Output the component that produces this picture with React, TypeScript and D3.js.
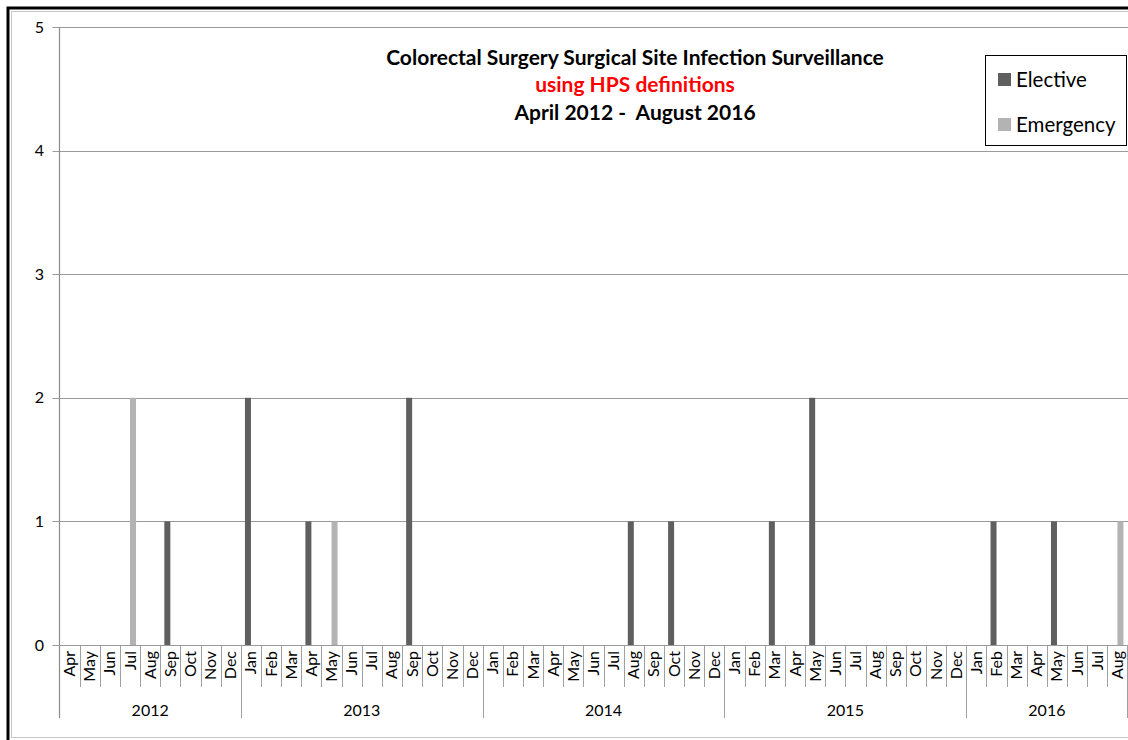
import * as d3 from 'd3';
import React, { useEffect, useRef } from 'react';

// months shown on the axis, Apr 2012 - Aug 2016
const years = ['2012', '2013', '2014', '2015', '2016'];
const monthNames = ['Jan', 'Feb', 'Mar', 'Apr', 'May', 'Jun', 'Jul', 'Aug', 'Sep', 'Oct', 'Nov', 'Dec'];
const yearMonths = [
  ['Apr', 'May', 'Jun', 'Jul', 'Aug', 'Sep', 'Oct', 'Nov', 'Dec'],
  monthNames,
  monthNames,
  monthNames,
  ['Jan', 'Feb', 'Mar', 'Apr', 'May', 'Jun', 'Jul', 'Aug'],
];

// infections per month
const elective = [
  0, 0, 0, 0, 0, 1, 0, 0, 0,
  2, 0, 0, 1, 0, 0, 0, 0, 2, 0, 0, 0,
  0, 0, 0, 0, 0, 0, 0, 1, 0, 1, 0, 0,
  0, 0, 1, 0, 2, 0, 0, 0, 0, 0, 0, 0,
  0, 1, 0, 0, 1, 0, 0, 0,
];
const emergency = [
  0, 0, 0, 2, 0, 0, 0, 0, 0,
  0, 0, 0, 0, 1, 0, 0, 0, 0, 0, 0, 0,
  0, 0, 0, 0, 0, 0, 0, 0, 0, 0, 0, 0,
  0, 0, 0, 0, 0, 0, 0, 0, 0, 0, 0, 0,
  0, 0, 0, 0, 0, 0, 0, 1,
];
const seriesNames = ['Elective', 'Emergency'];
const yTicks = [0, 1, 2, 3, 4, 5];

const W = 1128;
const H = 740;
const font = 'Lato, "Open Sans", sans-serif';

const App = () => {
  const ref = useRef(null);

  useEffect(() => {
    const svg = d3.select(ref.current);
    svg.selectAll('*').remove();

    const left = 59.5, right = 1127.5, top = 27, bottom = 645;
    const colors = { Elective: '#5f5f5f', Emergency: '#b3b3b3' };

    // flatten categories
    const cats = [];
    yearMonths.forEach((ms, yi) => ms.forEach(m => cats.push({ key: years[yi] + '-' + m, month: m, year: years[yi] })));

    const x = d3.scaleBand().domain(cats.map(c => c.key)).range([left, right]).padding(0);
    const inner = d3.scaleBand().domain(seriesNames).range([0, x.bandwidth()]).paddingInner(0).paddingOuter(0.68);
    const y = d3.scaleLinear().domain([0, 5]).range([bottom, top]);

    // frame
    svg.append('rect').attr('x', 8).attr('y', 8).attr('width', W + 20).attr('height', H + 20)
      .attr('fill', 'none').attr('stroke', '#000').attr('stroke-width', 3);
    svg.append('rect').attr('x', 11.5).attr('y', 11.5).attr('width', W + 20).attr('height', 726)
      .attr('fill', 'none').attr('stroke', '#c8c8c8').attr('stroke-width', 1);

    // gridlines + y ticks
    const g = svg.append('g');
    g.selectAll('line.grid').data(yTicks).enter().append('line')
      .attr('x1', left - 7).attr('x2', W)
      .attr('y1', d => Math.round(y(d)) + 0.5).attr('y2', d => Math.round(y(d)) + 0.5)
      .attr('stroke', '#9a9a9a').attr('stroke-width', 1.2);
    g.selectAll('text.ylab').data(yTicks).enter().append('text')
      .attr('x', 44).attr('y', d => y(d)).attr('dy', '0.35em')
      .attr('text-anchor', 'end').attr('font-family', font).attr('font-size', 16).attr('fill', '#000')
      .text(d => d);

    // y axis line
    svg.append('line').attr('x1', left).attr('x2', left).attr('y1', top).attr('y2', 718)
      .attr('stroke', '#8c8c8c').attr('stroke-width', 1.2);

    // month separators
    svg.append('g').selectAll('line').data(cats.slice(1)).enter().append('line')
      .attr('x1', d => Math.round(x(d.key)) + 0.5).attr('x2', d => Math.round(x(d.key)) + 0.5)
      .attr('y1', bottom).attr('y2', d => d.month === 'Jan' ? 718 : 687)
      .attr('stroke', '#a0a0a0').attr('stroke-width', 1);
    svg.append('line').attr('x1', right).attr('x2', right).attr('y1', bottom).attr('y2', 718)
      .attr('stroke', '#a0a0a0').attr('stroke-width', 1);

    // month labels
    svg.append('g').selectAll('text').data(cats).enter().append('text')
      .attr('transform', d => `translate(${x(d.key) + x.bandwidth() / 2 + 5.5},651) rotate(-90)`)
      .attr('text-anchor', 'end').attr('font-family', font).attr('font-size', 16).attr('fill', '#000')
      .text(d => d.month);

    // year labels
    years.forEach((yr, i) => {
      const ks = cats.filter(c => c.year === yr);
      const x0 = x(ks[0].key);
      const x1 = x(ks[ks.length - 1].key) + x.bandwidth();
      svg.append('text').attr('x', (x0 + x1) / 2).attr('y', 716).attr('text-anchor', 'middle')
        .attr('font-family', font).attr('font-size', 16).attr('fill', '#000').text(yr);
    });

    // bars
    const rows = cats.map((c, i) => ({ key: c.key, Elective: elective[i], Emergency: emergency[i] }));
    seriesNames.forEach(s => {
      svg.append('g').selectAll('rect').data(rows.filter(r => r[s] > 0)).enter().append('rect')
        .attr('x', d => x(d.key) + inner(s)).attr('width', inner.bandwidth())
        .attr('y', d => y(d[s])).attr('height', d => y(0) - y(d[s]))
        .attr('fill', colors[s]);
    });
    // redraw axis baseline over bars
    svg.append('line').attr('x1', left).attr('x2', W).attr('y1', bottom + 0.5).attr('y2', bottom + 0.5)
      .attr('stroke', '#9a9a9a').attr('stroke-width', 1.2);

    // title
    const t = svg.append('g').attr('font-family', font).attr('font-weight', 'bold').attr('font-size', 21)
      .attr('text-anchor', 'middle');
    t.append('text').attr('x', 635).attr('y', 65).attr('fill', '#000').text('Colorectal Surgery Surgical Site Infection Surveillance');
    t.append('text').attr('x', 635).attr('y', 92).attr('fill', '#ff0000').text('using HPS definitions');
    t.append('text').attr('x', 635).attr('y', 120).attr('fill', '#000').text('April 2012 -\u00a0 August 2016');

    // legend
    const lg = svg.append('g');
    lg.append('rect').attr('x', 985.5).attr('y', 55.5).attr('width', 141).attr('height', 90)
      .attr('fill', '#fff').attr('stroke', '#000').attr('stroke-width', 1);
    seriesNames.forEach((s, i) => {
      lg.append('rect').attr('x', 998).attr('y', 73 + i * 45).attr('width', 13).attr('height', 13).attr('fill', colors[s]);
      lg.append('text').attr('x', 1016).attr('y', 79.5 + i * 45).attr('dy', '0.35em')
        .attr('font-family', font).attr('font-size', 20.5).attr('fill', '#000').text(s);
    });
  }, []);

  return (
    <div style={{ position: 'absolute', left: 0, top: 0 }}>
      <svg ref={ref} width={W} height={H} style={{ display: 'block', background: '#fff' }} />
    </div>
  );
};

export default App;
